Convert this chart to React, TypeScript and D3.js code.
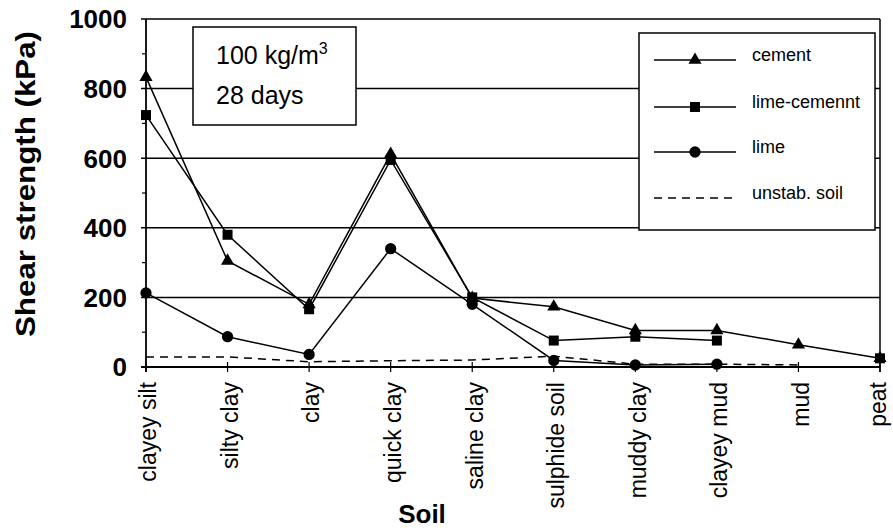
import React, { useEffect, useRef } from 'react';
import * as d3 from 'd3';

// soil types along the x axis
const soils = ['clayey silt', 'silty clay', 'clay', 'quick clay', 'saline clay', 'sulphide soil', 'muddy clay', 'clayey mud', 'mud', 'peat'];

// shear strength (kPa) after 28 days, 100 kg/m3 binder; null = not tested
const cement = [833, 305, 180, 612, 198, 173, 105, 105, 64, 25];
const limeCement = [724, 380, 166, 595, 200, 76, 87, 76, null, 25];
const lime = [213, 87, 36, 340, 180, 19, 6, 8, null, null];
const unstab = [29, 29, 15, 18, 20, 31, 8, 8, 6, null];

const yTicks = [0, 200, 400, 600, 800, 1000];
const yMinor = [100, 300, 500, 700, 900];

const FONT = '"Liberation Sans", Arial, Helvetica, sans-serif';

export default function App() {
  const svgRef = useRef<SVGSVGElement>(null);

  useEffect(() => {
    const svg = d3.select(svgRef.current);
    svg.selectAll('*').remove();

    const left = 146, right = 880, top = 19, bottom = 367;

    const x = d3.scalePoint<string>().domain(soils).range([left, right]).padding(0);
    const y = d3.scaleLinear().domain([0, 1000]).range([bottom, top]);

    const g = svg.append('g');

    // gridlines
    g.selectAll('line.grid')
      .data(yTicks.filter(d => d > 0))
      .enter()
      .append('line')
      .attr('x1', left - 5)
      .attr('x2', right)
      .attr('y1', d => y(d))
      .attr('y2', d => y(d))
      .attr('stroke', '#000')
      .attr('stroke-width', 1.5);

    // minor ticks
    g.selectAll('line.minor')
      .data(yMinor)
      .enter()
      .append('line')
      .attr('x1', left - 4)
      .attr('x2', left)
      .attr('y1', d => y(d))
      .attr('y2', d => y(d))
      .attr('stroke', '#000')
      .attr('stroke-width', 1.2);

    // frame: left axis, bottom axis, right side
    g.append('line').attr('x1', left).attr('x2', left).attr('y1', top).attr('y2', bottom + 5)
      .attr('stroke', '#000').attr('stroke-width', 1.8);
    g.append('line').attr('x1', right).attr('x2', right).attr('y1', top).attr('y2', bottom + 5)
      .attr('stroke', '#000').attr('stroke-width', 1.5);
    g.append('line').attr('x1', left - 5).attr('x2', right).attr('y1', bottom).attr('y2', bottom)
      .attr('stroke', '#000').attr('stroke-width', 1.8);

    // x ticks
    g.selectAll('line.xt')
      .data(soils)
      .enter()
      .append('line')
      .attr('x1', d => x(d)!)
      .attr('x2', d => x(d)!)
      .attr('y1', bottom - 5)
      .attr('y2', bottom + 5)
      .attr('stroke', '#000')
      .attr('stroke-width', 1.2);

    // y tick labels
    g.selectAll('text.yl')
      .data(yTicks)
      .enter()
      .append('text')
      .attr('x', 127)
      .attr('y', d => y(d))
      .attr('dy', '0.36em')
      .attr('text-anchor', 'end')
      .attr('font-family', FONT)
      .attr('font-weight', 'bold')
      .attr('font-size', 26)
      .text(d => d);

    // x tick labels
    g.selectAll('text.xl')
      .data(soils)
      .enter()
      .append('text')
      .attr('transform', d => `translate(${Math.min(x(d)! + 2, 878)},382) rotate(-90)`)
      .attr('text-anchor', 'end')
      .attr('dy', '0.36em')
      .attr('font-family', FONT)
      .attr('font-size', 23)
      .text(d => d);

    // axis titles
    g.append('text')
      .attr('transform', `translate(35,184) rotate(-90)`)
      .attr('text-anchor', 'middle')
      .attr('font-family', FONT)
      .attr('font-weight', 'bold')
      .attr('font-size', 28)
      .attr('textLength', 306)
      .attr('lengthAdjust', 'spacingAndGlyphs')
      .text('Shear strength (kPa)');

    g.append('text')
      .attr('x', 422)
      .attr('y', 523)
      .attr('text-anchor', 'middle')
      .attr('font-family', FONT)
      .attr('font-weight', 'bold')
      .attr('font-size', 26)
      .text('Soil');

    // annotation box
    g.append('rect').attr('x', 193).attr('y', 27).attr('width', 163).attr('height', 98)
      .attr('fill', '#fff').attr('stroke', '#000').attr('stroke-width', 1.5);
    const t1 = g.append('text').attr('x', 216).attr('y', 64).attr('font-family', FONT).attr('font-size', 25);
    t1.append('tspan').text('100 kg/m');
    t1.append('tspan').attr('font-size', 16).attr('dy', -10).text('3');
    g.append('text').attr('x', 216).attr('y', 104).attr('font-family', FONT).attr('font-size', 25).text('28 days');

    const series = [
      { name: 'cement', values: cement, marker: 'triangle', dash: null },
      { name: 'lime-cemennt', values: limeCement, marker: 'square', dash: null },
      { name: 'lime', values: lime, marker: 'circle', dash: null },
      { name: 'unstab. soil', values: unstab, marker: null, dash: '8,6' },
    ];

    const line = d3.line<number | null>()
      .defined(d => d !== null)
      .x((d, i) => x(soils[i])!)
      .y(d => y(d as number));

    const symbolFor = (m: string) =>
      m === 'triangle' ? d3.symbol().type(d3.symbolTriangle).size(75)
        : m === 'square' ? d3.symbol().type(d3.symbolSquare).size(100)
          : d3.symbol().type(d3.symbolCircle).size(100);

    // draw dashed first so solid lines sit on top
    [...series].reverse().forEach(s => {
      g.append('path')
        .attr('d', line(s.values))
        .attr('fill', 'none')
        .attr('stroke', '#000')
        .attr('stroke-width', 1.5)
        .attr('stroke-dasharray', s.dash);
      if (s.marker) {
        g.selectAll(null)
          .data(s.values.map((v, i) => ({ v, i })).filter(d => d.v !== null))
          .enter()
          .append('path')
          .attr('d', symbolFor(s.marker)()!)
          .attr('transform', d => `translate(${x(soils[d.i])},${y(d.v as number)})`)
          .attr('fill', '#000');
      }
    });

    // legend
    g.append('rect').attr('x', 639).attr('y', 33).attr('width', 236).attr('height', 197)
      .attr('fill', '#fff').attr('stroke', '#000').attr('stroke-width', 1.5);
    const legY = [60, 107, 152, 198];
    series.forEach((s, i) => {
      const ly = legY[i];
      g.append('line').attr('x1', 654).attr('x2', 736).attr('y1', ly).attr('y2', ly)
        .attr('stroke', '#000').attr('stroke-width', 1.5).attr('stroke-dasharray', s.dash);
      if (s.marker) {
        g.append('path').attr('d', symbolFor(s.marker)()!)
          .attr('transform', `translate(695,${ly})`).attr('fill', '#000');
      }
      g.append('text').attr('x', 752).attr('y', ly + 1).attr('font-family', FONT).attr('font-size', 18)
        .text(s.name);
    });
  }, []);

  return (
    <svg ref={svgRef} width={893} height={531}
      style={{ position: 'absolute', left: 0, top: 0, background: '#fff' }} />
  );
}
